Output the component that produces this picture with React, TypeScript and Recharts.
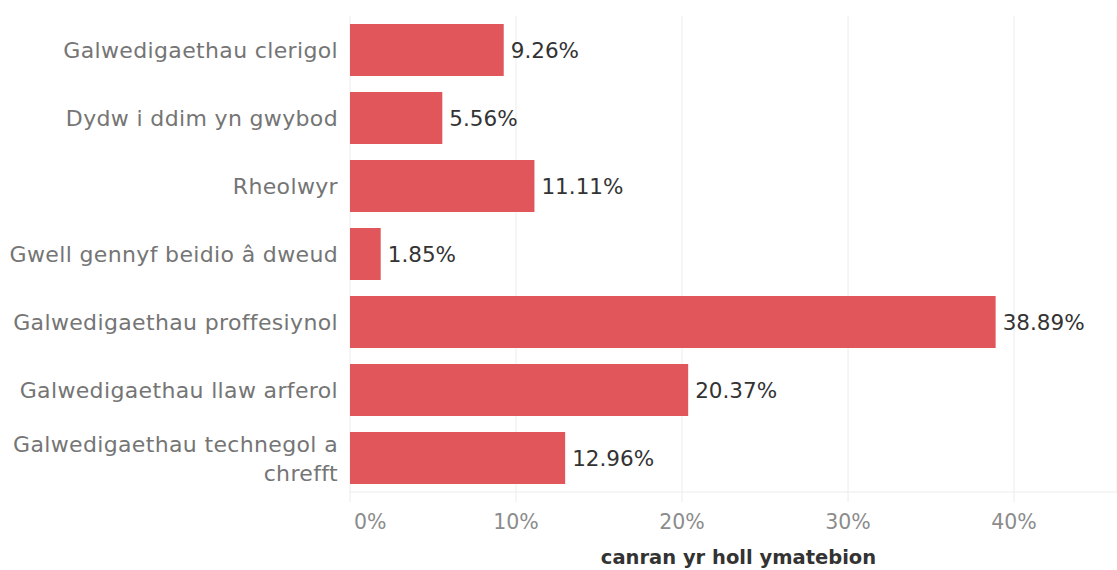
import React from "react";
import { BarChart, Bar, XAxis, YAxis, CartesianGrid, LabelList } from "recharts";

const categories = [
  "Galwedigaethau clerigol",
  "Dydw i ddim yn gwybod",
  "Rheolwyr",
  "Gwell gennyf beidio â dweud",
  "Galwedigaethau proffesiynol",
  "Galwedigaethau llaw arferol",
  "Galwedigaethau technegol a chrefft",
];
const values = [9.26, 5.56, 11.11, 1.85, 38.89, 20.37, 12.96];
const xTicks = [0, 10, 20, 30, 40];
const axisTitle = "canran yr holl ymatebion";

const data = categories.map((c, i) => ({ name: c, value: values[i] }));

const FONT = "'DejaVu Sans', sans-serif";

const CategoryTick = (props: any) => {
  const { x, y, payload } = props;
  const label: string = payload.value;
  const lines =
    label === "Galwedigaethau technegol a chrefft"
      ? ["Galwedigaethau technegol a", "chrefft"]
      : [label];
  const lh = 29;
  const startDy = -((lines.length - 1) * lh) / 2;
  return (
    <text
      x={x - 4}
      y={y}
      textAnchor="end"
      fill="#757575"
      fontSize={22}
      letterSpacing={0.35}
      fontFamily={FONT}
      dominantBaseline="central"
    >
      {lines.map((l, i) => (
        <tspan key={i} x={x - 4} dy={i === 0 ? startDy : lh}>
          {l}
        </tspan>
      ))}
    </text>
  );
};

const ValueTick = (props: any) => {
  const { x, y, payload } = props;
  const v = payload.value;
  const isZero = v === 0;
  return (
    <text
      x={isZero ? x + 4 : x}
      y={y + 25}
      textAnchor={isZero ? "start" : "middle"}
      fill="#8c8c8c"
      fontSize={20.5}
      fontFamily={FONT}
    >
      {`${v}%`}
    </text>
  );
};

export default function App() {
  return (
    <div style={{ position: "absolute", left: 0, top: 0, background: "#fff" }}>
      <BarChart
        width={1117}
        height={570}
        data={data}
        layout="vertical"
        margin={{ top: 16, right: 0, bottom: 0, left: 0 }}
        barSize={52}
      >
        <CartesianGrid horizontal={false} vertical={true} stroke="#ececec" />
        <XAxis
          type="number"
          domain={[0, 46.2]}
          ticks={xTicks}
          height={78}
          axisLine={{ stroke: "#ececec" }}
          tickLine={{ stroke: "#ececec" }}
          tickSize={10}
          tick={<ValueTick />}
          interval={0}
          label={{
            value: axisTitle,
            position: "insideBottom",
            offset: 6,
            dx: 5,
            fill: "#333",
            fontSize: 19.5,
            fontWeight: 700,
            fontFamily: FONT,
          }}
        />
        <YAxis
          type="category"
          dataKey="name"
          width={350}
          axisLine={false}
          tickLine={false}
          tick={<CategoryTick />}
          interval={0}
        />
        <Bar dataKey="value" fill="#e0565b" isAnimationActive={false}>
          <LabelList
            dataKey="value"
            position="right"
            offset={7}
            formatter={(v: any) => `${Number(v).toFixed(2)}%`}
            fill="#333"
            fontSize={21.5}
            fontFamily={FONT}
          />
        </Bar>
      </BarChart>
    </div>
  );
}
